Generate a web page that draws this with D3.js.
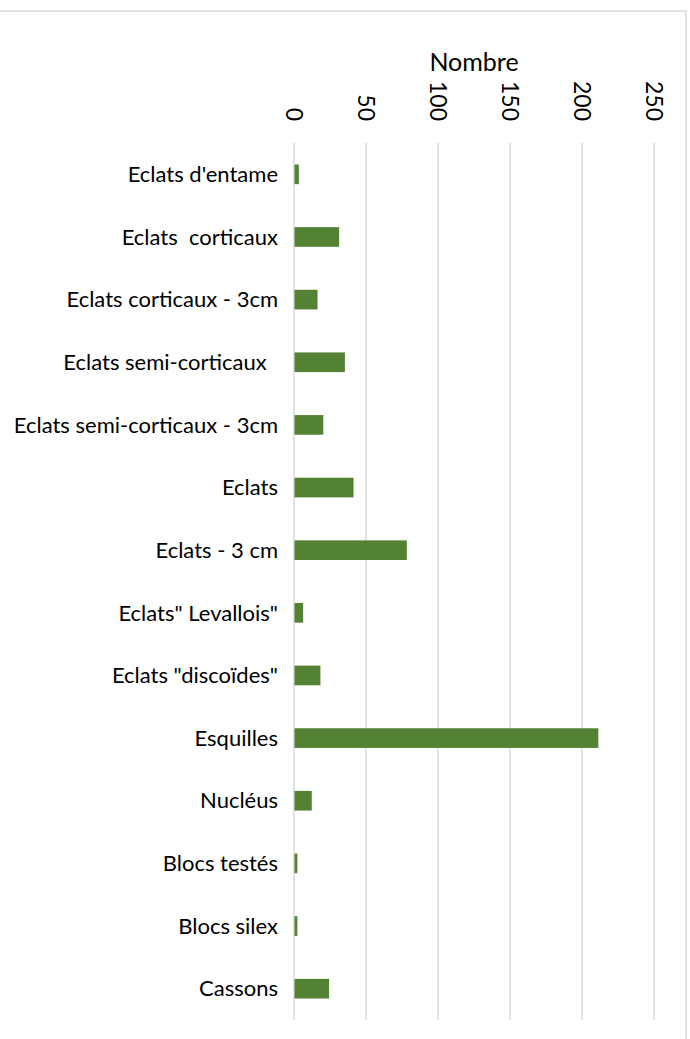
<!DOCTYPE html>
<html>
<head>
<meta charset="utf-8">
<script src="https://cdn.jsdelivr.net/npm/d3@7"></script>
<style>
  body { margin: 0; background: #fff; }
  text { font-family: Lato, "Open Sans", sans-serif; fill: #000; }
</style>
</head>
<body>
<svg id="chart" width="690" height="1039"></svg>
<script>
// categories and values
var categories = [
  "Eclats d'entame",
  "Eclats  corticaux",
  "Eclats corticaux - 3cm",
  "Eclats semi-corticaux  ",
  "Eclats semi-corticaux - 3cm",
  "Eclats",
  "Eclats - 3 cm",
  "Eclats\" Levallois\"",
  "Eclats \"discoïdes\"",
  "Esquilles",
  "Nucléus",
  "Blocs testés",
  "Blocs silex",
  "Cassons"
];
var nombre = [3, 31, 16, 35, 20, 41, 78, 6, 18, 211, 12, 2, 2, 24];
var ticks = [0, 50, 100, 150, 200, 250];
var axisTitle = "Nombre";

var svg = d3.select("#chart");

// chart border (left and bottom edges fall outside the page)
svg.append("rect")
   .attr("x", -1).attr("y", 11)
   .attr("width", 687).attr("height", 1040)
   .attr("fill", "none")
   .attr("stroke", "#d9d9d9")
   .attr("stroke-width", 1.5);

var x = d3.scaleLinear().domain([0, 250]).range([294, 654]);
var y = d3.scaleBand().domain(categories).range([143, 1020]).paddingInner(0.686).paddingOuter(0.343);

// gridlines
svg.append("g").selectAll("line")
   .data(ticks).enter().append("line")
   .attr("x1", function(d){ return x(d); })
   .attr("x2", function(d){ return x(d); })
   .attr("y1", 143).attr("y2", 1020)
   .attr("stroke", "#d9d9d9")
   .attr("stroke-width", 1.5);

// bars
svg.append("g").selectAll("rect")
   .data(nombre).enter().append("rect")
   .attr("x", x(0) + 0.5)
   .attr("y", function(d, i){ return y(categories[i]); })
   .attr("width", function(d){ return x(d) - x(0); })
   .attr("height", y.bandwidth())
   .attr("fill", "#548235");

// category labels
svg.append("g").selectAll("text")
   .data(categories).enter().append("text")
   .attr("x", 278)
   .attr("y", function(d){ return y(d) + y.bandwidth() / 2; })
   .attr("dy", "0.35em")
   .attr("text-anchor", "end")
   .style("white-space", "pre")
   .style("font-size", "22px")
   .text(function(d){ return d; });

// rotated tick labels on top
var xAxis = d3.axisTop(x).tickValues(ticks).tickSize(0).tickPadding(0);
var gx = svg.append("g").attr("transform", "translate(0,121)").call(xAxis);
gx.select(".domain").remove();
gx.selectAll("text")
  .attr("transform", "rotate(90)")
  .attr("x", 0).attr("y", 0)
  .attr("dy", "0.35em")
  .attr("text-anchor", "end")
  .attr("fill", "#000")
  .style("font-family", "Lato, 'Open Sans', sans-serif")
  .style("font-size", "23px");
gx.selectAll(".tick").attr("transform", function(d){ return "translate(" + x(d) + ",0)"; });

svg.append("text")
   .attr("x", 474)
   .attr("y", 71)
   .attr("text-anchor", "middle")
   .style("font-size", "25px")
   .text(axisTitle);
</script>
</body>
</html>
